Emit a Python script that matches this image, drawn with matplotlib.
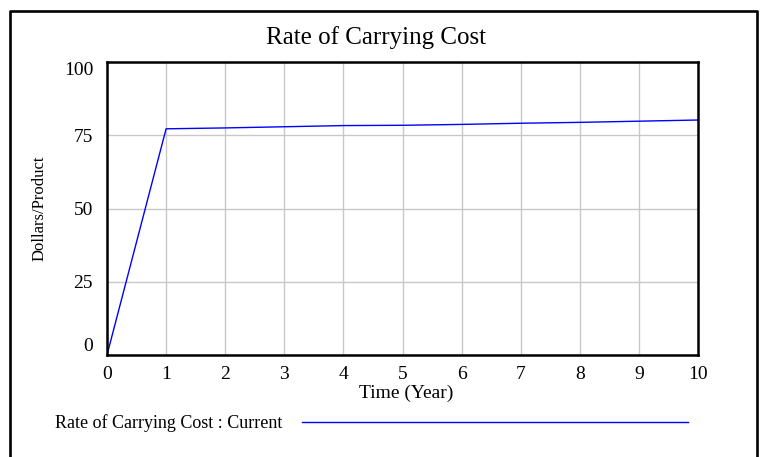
import matplotlib.pyplot as plt
from matplotlib.lines import Line2D

plt.rcParams['font.family'] = ['Liberation Serif', 'DejaVu Serif']

# data
time = [0, 1, 2, 3, 4, 5, 6, 7, 8, 9, 10]
rate = [0, 77.2, 77.5, 77.9, 78.3, 78.4, 78.7, 79.1, 79.4, 79.8, 80.2]
x_ticks = list(range(0, 11))
y_ticks = [0, 25, 50, 75, 100]

W, H = 760, 457
fig = plt.figure(figsize=(7.6, 4.57), dpi=100)
ax = fig.add_axes([107 / W, 1 - 355 / H, 591 / W, 293 / H])

ax.plot(time, rate, color='#0000ff', lw=1.0)
ax.set_xlim(0, 10)
ax.set_ylim(0, 100)
ax.set_xticks(x_ticks)
ax.set_yticks(y_ticks)
ax.grid(True, color='#c8c8c8', lw=1.0)
ax.tick_params(length=0, labelsize=14)
ax.tick_params(axis='x', pad=8)
ax.tick_params(axis='y', pad=10)
for s in ax.spines.values():
    s.set_linewidth(1.8)
    s.set_color('black')

# end labels sit inside the axis range, like the original
ylabels = ax.get_yticklabels()
ylabels[0].set_va('bottom')
ylabels[-1].set_va('top')

ax.set_xlabel('Time (Year)', fontsize=14, va='center')
ax.xaxis.set_label_coords((406 - 107) / 591, (355 - 393) / 293)
ax.set_ylabel('Dollars/Product', fontsize=12, va='center')
ax.yaxis.set_label_coords((40 - 107) / 591, 0.5)

fig.text(376 / W, 1 - 38 / H, 'Rate of Carrying Cost', fontsize=18,
         ha='center', va='center')

# legend row
fig.text(55 / W, 1 - 423 / H, 'Rate of Carrying Cost : Current',
         fontsize=13, ha='left', va='center')
fig.add_artist(Line2D([302 / W, 688 / W], [1 - 422 / H, 1 - 422 / H],
                      color='#0000ff', lw=1.0))

# outer frame (left, top, right)
fig.add_artist(Line2D([9.5 / W, 9.5 / W, 757 / W, 757 / W],
                      [0, 1 - 10.5 / H, 1 - 10.5 / H, 0],
                      color='black', lw=1.9))

fig.savefig('out.png', dpi=100)
